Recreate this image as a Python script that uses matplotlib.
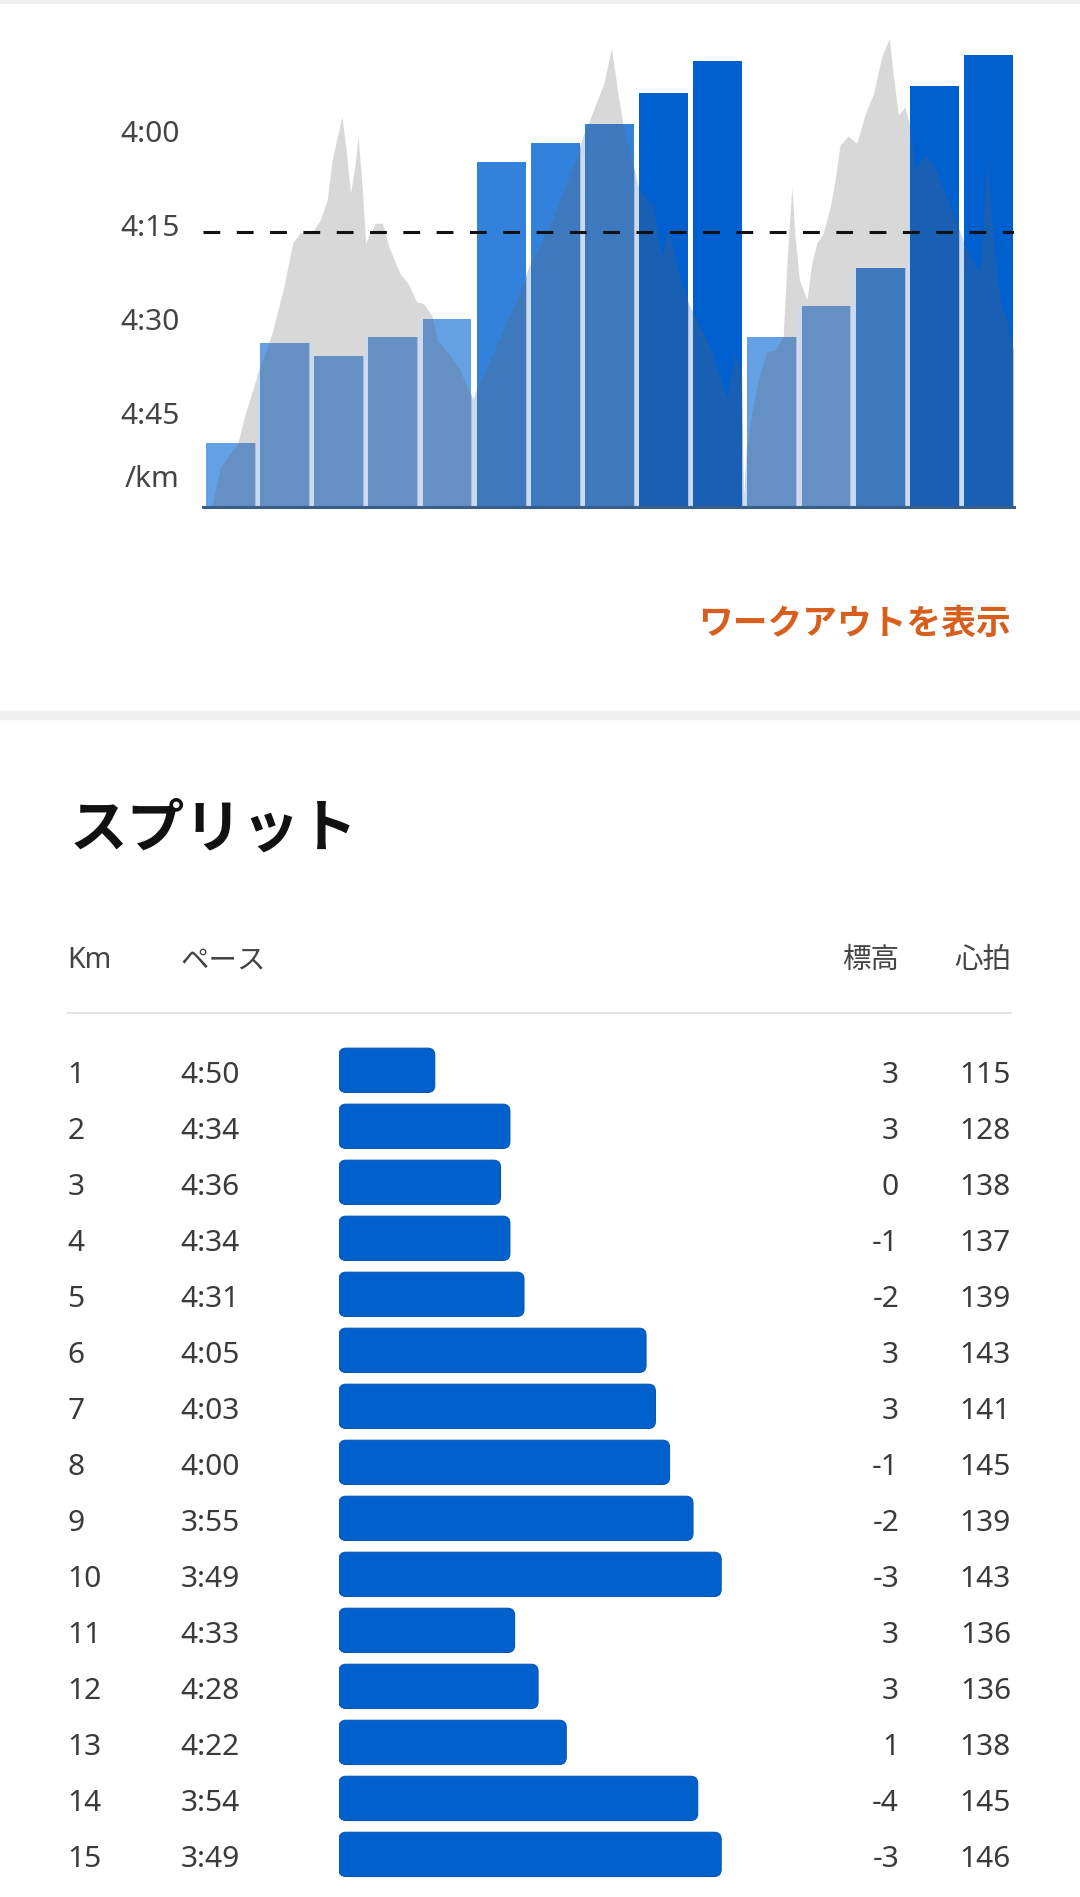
import numpy as np
import matplotlib
matplotlib.use("Agg")
import matplotlib.pyplot as plt
from matplotlib.patches import FancyBboxPatch, Rectangle
from matplotlib.lines import Line2D
from matplotlib.transforms import blended_transform_factory

plt.rcParams['font.family'] = ['Noto Sans', 'Noto Sans CJK JP', 'DejaVu Sans']

# --- split table ---
km = list(range(1, 16))
pace_text = ["4:50", "4:34", "4:36", "4:34", "4:31", "4:05", "4:03", "4:00",
             "3:55", "3:49", "4:33", "4:28", "4:22", "3:54", "3:49"]
elev_gain = [3, 3, 0, -1, -2, 3, 3, -1, -2, -3, 3, 3, 1, -4, -3]
heart_rate = [115, 128, 138, 137, 139, 143, 141, 145, 139, 143, 136, 136, 138, 145, 146]

# --- pace chart (seconds per km) ---
chart_pace = [289.9, 273.9, 275.9, 272.9, 270.0, 245.0, 242.0, 238.9,
              233.9, 228.9, 272.9, 267.9, 261.9, 232.9, 227.9]

pace_ticks = [240, 255, 270, 285]
pace_tick_labels = ["4:00", "4:15", "4:30", "4:45"]

# elevation profile behind the bars (km, metres above lowest point)
profile_km = [0.11, 0.27, 0.59, 0.71, 0.90, 1.22, 1.44, 1.60, 1.73, 1.99,
              2.11, 2.24, 2.33, 2.40, 2.51, 2.59, 2.67, 2.75, 2.81, 2.88,
              2.95, 3.03, 3.13, 3.26, 3.38, 3.58, 3.73, 3.89, 4.02, 4.18,
              4.27, 4.47, 4.66, 4.85, 4.94, 5.00, 5.49, 5.91, 6.00, 6.42,
              6.82, 7.06, 7.35, 7.49, 7.60, 7.70, 7.91, 8.00, 8.26, 8.42,
              8.54, 8.69, 8.91, 9.00, 9.31, 9.62, 9.77, 9.89, 9.93, 9.99,
              10.08, 10.20, 10.36, 10.51, 10.66, 10.73, 10.82, 10.88, 10.96, 11.10,
              11.19, 11.28, 11.40, 11.53, 11.62, 11.71, 11.86, 12.02, 12.17, 12.33,
              12.48, 12.62, 12.69, 12.79, 12.91, 12.99, 13.10, 13.28, 13.43, 13.68,
              13.91, 14.00, 14.21, 14.30, 14.44, 14.54, 14.67, 14.79, 14.91]
profile_m = [0.00, 0.98, 1.56, 2.21, 3.03, 4.26, 5.40, 6.47, 6.71, 6.79,
             7.04, 7.53, 8.51, 8.92, 9.58, 8.76, 7.70, 8.35, 9.09, 7.94,
             6.47, 6.71, 6.96, 6.96, 6.38, 5.73, 5.49, 5.03, 4.99, 4.67,
             4.09, 3.77, 3.44, 2.87, 2.62, 2.87, 4.34, 5.65, 5.98, 7.12,
             8.51, 9.41, 10.40, 11.26, 10.23, 9.41, 8.27, 7.78, 7.37, 6.14,
             6.88, 5.98, 4.99, 4.75, 3.93, 2.70, 3.77, 3.34, 0.00, 1.47,
             2.29, 3.11, 3.81, 3.85, 4.17, 5.98, 7.86, 6.63, 5.57, 5.08,
             5.98, 6.47, 6.71, 7.37, 8.02, 8.88, 9.10, 8.92, 9.62, 10.15,
             11.05, 11.50, 10.64, 9.62, 9.82, 9.40, 8.30, 8.64, 8.43, 7.61,
             6.79, 6.47, 5.89, 5.81, 8.59, 6.55, 5.08, 4.58, 3.85]


def to_sec(s):
    m, s = s.split(":")
    return int(m) * 60 + int(s)


def pace_colour(p):
    if p < 237:
        return "#0060D0"
    if p < 265:
        return "#3282DC"
    return "#64A0E4"


W, H = 1080, 1897
fig = plt.figure(figsize=(W / 100, H / 100), dpi=100)


def fx(px):
    return px / W


def fy(py):
    return 1 - py / H


# page decorations
fig.patches.append(Rectangle((0, fy(3)), 1, 3 / H, transform=fig.transFigure,
                             color="#f0f0f0", zorder=0))
fig.patches.append(Rectangle((0, fy(719)), 1, 8 / H, transform=fig.transFigure,
                             color="#f0f0f0", zorder=0))

# ---------------- pace chart ----------------
ax = fig.add_axes([fx(203), fy(506.7), fx(1013.6) - fx(203), fy(18) - fy(506.7)])
ax_e = ax.twinx()
ax_e.set_ylim(0, 12)
ax_e.axis("off")

idx = np.arange(len(chart_pace))
bar_w = 0.903

prof = ax.fill_between(profile_km, profile_m, 0, color="#d8d8d8", lw=0,
                       transform=ax_e.transData, zorder=1)
prof_path = prof.get_paths()[0]

# light strips between the bars where the profile lies behind them
back = ax.bar(idx - (1 - bar_w) / 2, np.array(chart_pace) - 300, bottom=300,
              width=1.0, align="edge", color="#c9daf1", lw=0, zorder=2)
for r in back:
    r.set_clip_path(prof_path, ax_e.transData)

bars = ax.bar(idx, np.array(chart_pace) - 300, bottom=300, width=bar_w,
              align="edge", color=[pace_colour(p) for p in chart_pace],
              lw=0, zorder=3)
for b in bars:
    shade = ax.fill_between(profile_km, profile_m, 0, color="#695f5d", alpha=0.24,
                            lw=0, transform=ax_e.transData, zorder=4)
    shade.set_clip_path(b)

avg_pace = np.mean([to_sec(p) for p in pace_text])
ax.axhline(avg_pace, color="#111111", lw=2.2, ls=(0, (5.5, 5.4)), zorder=5)

ax.set_xlim(-0.054, 14.916)
ax.set_ylim(300, 222)
ax_e.set_xlim(-0.054, 14.916)

for s in ["top", "right", "left"]:
    ax.spines[s].set_visible(False)
ax.spines["bottom"].set_color("#3a5e8c")
ax.spines["bottom"].set_linewidth(2.2)
ax.spines["bottom"].set_zorder(6)
ax.set_xticks([])
ax.set_yticks(pace_ticks + [295.1], pace_tick_labels + ["/km"])
ax.tick_params(axis="y", length=0, pad=16.7, labelsize=21.5, labelcolor="#444444")

# ---------------- link and title ----------------
fig.text(fx(1011), fy(623), "ワークアウトを表示", ha="right", va="center",
         size=25, weight="bold", color="#D75F1E", family=["Noto Sans CJK JP"])
fig.text(fx(70), fy(830), "スプリット", ha="left", va="center", size=41.5,
         weight="bold", color="#111111", family=["Noto Sans CJK JP"])

# header
hdr = dict(size=20.5, color="#444444", va="baseline")
fig.text(fx(67.5), fy(968), "Km", ha="left", **hdr)
fig.text(fx(180.4), fy(968), "ペース", ha="left", **hdr)
fig.text(fx(899), fy(968), "標高", ha="right", **hdr)
fig.text(fx(1011), fy(968), "心拍", ha="right", **hdr)
fig.add_artist(Line2D([fx(67.5), fx(1011)], [fy(1012.7), fy(1012.7)],
                      transform=fig.transFigure, color="#e0e0e0", lw=1.3))

# ---------------- split table ----------------
ax_t = fig.add_axes([fx(339), fy(1882.4), fx(1011) - fx(339), fy(1042.3) - fy(1882.4)])
x0_ref = 310.4
ax_t.set_xlim(x0_ref, x0_ref - 672 / 4.695)
ax_t.set_ylim(14.5, -0.5)
ax_t.axis("off")

secs = np.array([to_sec(p) for p in pace_text])
hb = ax_t.barh(idx, secs - x0_ref, left=x0_ref, height=0.79, color="none")
x_per_px = 1 / 4.695
y_per_px = 1 / 56.01
for r in hb:
    bb = r.get_bbox()
    xa, xb = sorted([bb.x0, bb.x1])
    ya, yb = sorted([bb.y0, bb.y1])
    ax_t.add_patch(FancyBboxPatch((xa, ya), xb - xa, yb - ya,
                                  boxstyle="round,pad=0,rounding_size=%.3f" % (7 * x_per_px),
                                  mutation_aspect=y_per_px / x_per_px,
                                  fc="#0061CC", ec="#0a56b4", lw=0.8))
    r.remove()

row_tf = blended_transform_factory(fig.transFigure, ax_t.transData)
cell = dict(size=21.5, color="#3a3a3a", va="baseline", transform=row_tf)
for i in idx:
    yb = i + 0.232
    ax_t.text(fx(67.5), yb, str(km[i]), ha="left", **cell)
    ax_t.text(fx(180.4), yb, pace_text[i], ha="left", **cell)
    ax_t.text(fx(899), yb, str(elev_gain[i]), ha="right", **cell)
    ax_t.text(fx(1011), yb, str(heart_rate[i]), ha="right", **cell)

fig.savefig("out.png", dpi=100, facecolor="white")
